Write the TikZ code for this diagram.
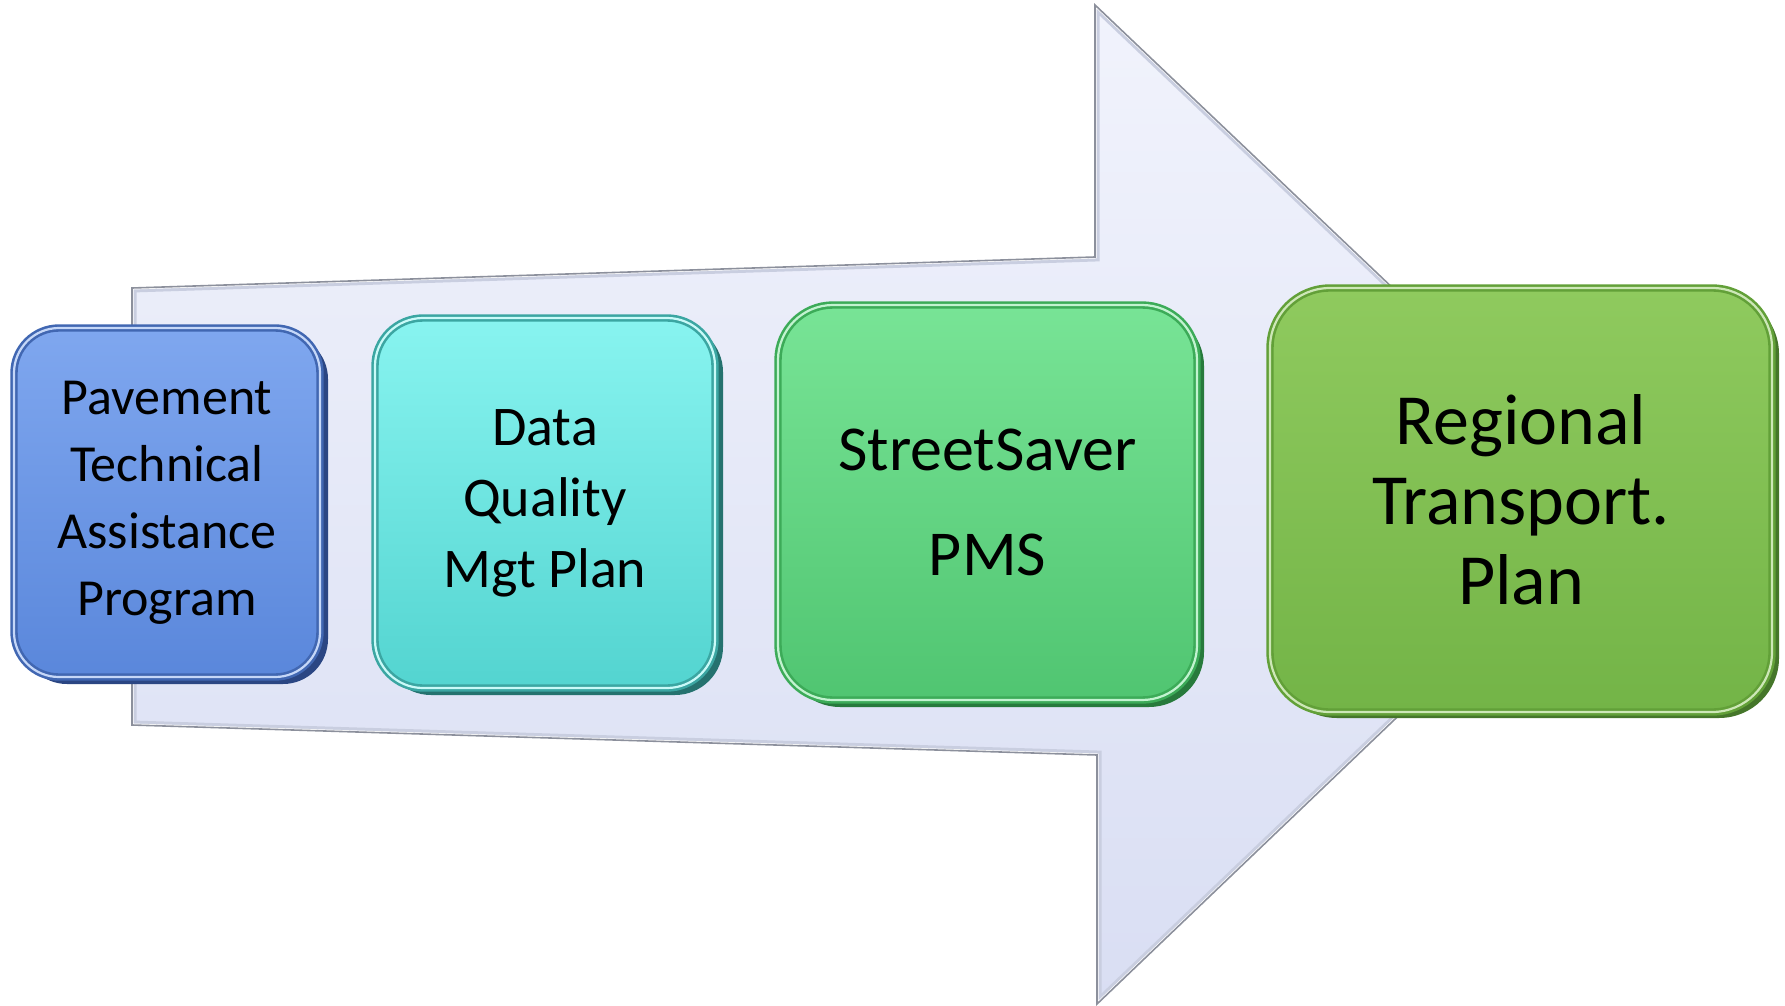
\documentclass[tikz,border=0pt]{standalone}
\usepackage{fontspec}
\setmainfont{Carlito}
\begin{document}
\begin{tikzpicture}[x=1pt,y=-1pt]
% colours
\definecolor{arrowtop}{HTML}{F1F3FC}
\definecolor{arrowbot}{HTML}{D9DEF3}
\definecolor{arrowedge}{HTML}{8C909C}
\definecolor{arrowbevel}{HTML}{C9CEE0}
\definecolor{blueTop}{HTML}{7FA7EF}
\definecolor{blueBot}{HTML}{5A87DB}
\definecolor{blueEdge}{HTML}{4167B2}
\definecolor{blueExt}{HTML}{2B4683}
\definecolor{cyanTop}{HTML}{88F4F0}
\definecolor{cyanBot}{HTML}{53D4D0}
\definecolor{cyanEdge}{HTML}{3BA6A2}
\definecolor{cyanExt}{HTML}{25726F}
\definecolor{greenTop}{HTML}{78E496}
\definecolor{greenBot}{HTML}{50C571}
\definecolor{greenEdge}{HTML}{3CAB58}
\definecolor{greenExt}{HTML}{277A3C}
\definecolor{limeTop}{HTML}{8FCA5E}
\definecolor{limeBot}{HTML}{73B447}
\definecolor{limeEdge}{HTML}{62A038}
\definecolor{limeExt}{HTML}{45762A}

\tikzset{
  stagebox/.style={rounded corners=#1, inner sep=0pt, align=center,
    text=black, draw, line width=2.6pt, double distance=2.2pt},
  extrusion/.style={rounded corners=#1},
}

\useasboundingbox (0,0) rectangle (1785,1006);

% the big arrow
\coordinate (a1) at (132,288);
\coordinate (a2) at (1095,257);
\coordinate (a3) at (1095,5);
\coordinate (a4) at (1620,504);
\coordinate (a5) at (1097,1004);
\coordinate (a6) at (1097,755);
\coordinate (a7) at (132,725);
\fill[top color=arrowtop, bottom color=arrowbot]
  (a1) -- (a2) -- (a3) -- (a4) -- (a5) -- (a6) -- (a7) -- cycle;
\begin{scope}
  \clip (a1) -- (a2) -- (a3) -- (a4) -- (a5) -- (a6) -- (a7) -- cycle;
  \draw[arrowbevel, line width=9pt, line join=miter]
    (a1) -- (a2) -- (a3) -- (a4) -- (a5) -- (a6) -- (a7) -- cycle;
  \draw[white, line width=3pt, line join=miter]
    (a1) -- (a2) -- (a3) -- (a4) -- (a5) -- (a6) -- (a7) -- cycle;
\end{scope}
\draw[arrowedge, line width=1.6pt, line join=miter]
  (a1) -- (a2) -- (a3) -- (a4) -- (a5) -- (a6) -- (a7) -- cycle;

% depth of each box (offset towards lower right)
\fill[blueExt, extrusion=45pt] (22,334) rectangle (328,684);
\fill[cyanExt, extrusion=48pt] (383,324) rectangle (723,695);
\fill[greenExt, extrusion=55pt] (785,311) rectangle (1204,707);
\fill[limeExt, extrusion=60pt] (1277,294) rectangle (1779,718);

% the four stages
\node[stagebox=45pt, draw=blueEdge, double=blueTop!45!white,
      top color=blueTop, bottom color=blueBot,
      minimum width=306pt, minimum height=349pt,
      font=\fontsize{52}{67}\selectfont] (pav) at (167,502.5)
  {Pavement\\Technical\\Assistance\\Program};

\node[stagebox=48pt, draw=cyanEdge, double=cyanTop!45!white,
      top color=cyanTop, bottom color=cyanBot,
      minimum width=340pt, minimum height=370pt,
      font=\fontsize{56}{71}\selectfont] (dq) at (545,503)
  {Data\\Quality\\Mgt Plan};

\node[stagebox=55pt, draw=greenEdge, double=greenTop!45!white,
      top color=greenTop, bottom color=greenBot,
      minimum width=419pt, minimum height=395pt,
      font=\fontsize{64}{105}\selectfont] (ss) at (987.5,502.5)
  {StreetSaver\\PMS};

\node[stagebox=60pt, draw=limeEdge, double=limeTop!45!white,
      top color=limeTop, bottom color=limeBot,
      minimum width=502pt, minimum height=424pt,
      font=\fontsize{72}{80}\selectfont] (rtp) at (1521,500)
  {Regional\\Transport.\\Plan};
\end{tikzpicture}
\end{document}
